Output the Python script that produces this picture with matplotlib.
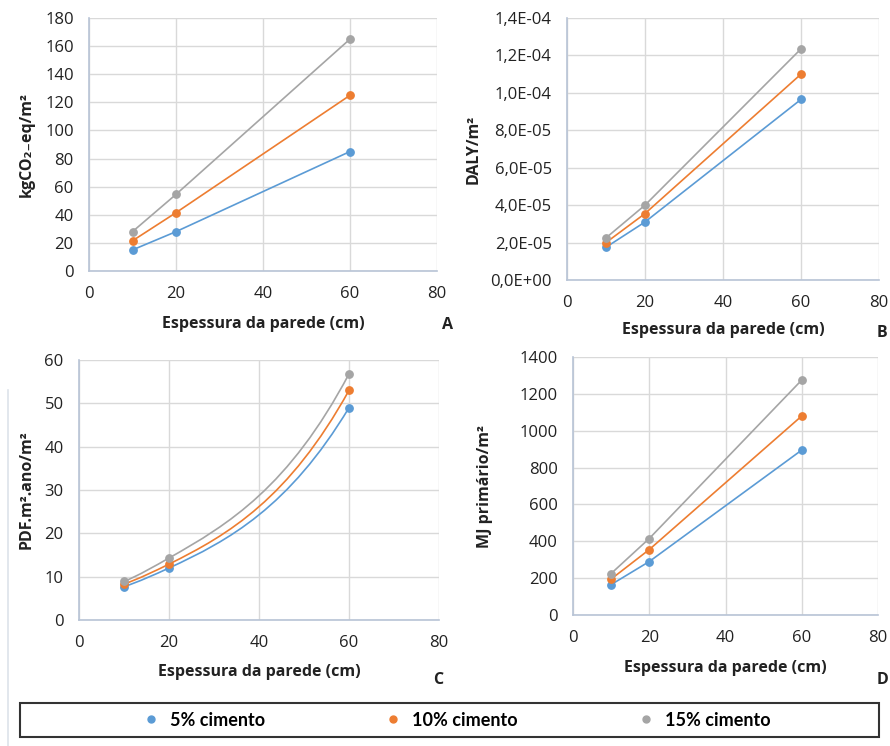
import numpy as np
import matplotlib
matplotlib.use("Agg")
import matplotlib.pyplot as plt
from matplotlib.path import Path
from matplotlib.patches import PathPatch, Rectangle
from matplotlib.lines import Line2D

plt.rcParams['font.family'] = ['Open Sans', 'DejaVu Sans']

# data
espessura = [10, 20, 60]
series_names = ['5% cimento', '10% cimento', '15% cimento']
colors = ['#5b9bd5', '#ed7d31', '#a5a5a5']

co2 = [[15, 28, 85], [21.5, 41.5, 125], [28, 54.5, 165]]
daly = [[1.75e-5, 3.1e-5, 9.65e-5], [2.0e-5, 3.55e-5, 1.10e-4], [2.25e-5, 4.0e-5, 1.235e-4]]
pdf = [[7.7, 12.0, 49.0], [8.3, 12.9, 53.0], [8.9, 14.3, 56.8]]
mj = [[165, 290, 895], [195, 355, 1080], [225, 415, 1275]]

ylabels = ['kgCO₂₋eq/m²', 'DALY/m²', 'PDF.m².ano/m²', 'MJ primário/m²']
xlabel = 'Espessura da parede (cm)'
letters = ['A', 'B', 'C', 'D']

W, H = 890, 746
fig = plt.figure(figsize=(W / 100, H / 100), dpi=100)


def fx(px):
    return px / W


def fy(py):
    return 1 - py / H


def smooth_path(x, y):
    # cubic hermite with slopes from neighbouring log-slopes (like the excel smoothed line)
    x = np.asarray(x, float)
    y = np.asarray(y, float)
    b = np.diff(np.log(y)) / np.diff(x)
    bs = np.concatenate([[b[0]], (b[:-1] + b[1:]) / 2, [b[-1]]])
    m = y * bs
    verts = [(x[0], y[0])]
    codes = [Path.MOVETO]
    for i in range(len(x) - 1):
        h = x[i + 1] - x[i]
        verts += [(x[i] + h / 3, y[i] + m[i] * h / 3),
                  (x[i + 1] - h / 3, y[i + 1] - m[i + 1] * h / 3),
                  (x[i + 1], y[i + 1])]
        codes += [Path.CURVE4] * 3
    return Path(verts, codes)


# axes boxes in pixels: left, top, right, bottom
boxes = [(89, 18, 437, 271), (567, 18, 879, 280), (79, 360, 439, 620), (573, 357, 878, 615)]
datasets = [co2, daly, pdf, mj]
ylims = [(0, 180, 20), (0, 1.4e-4, 2e-5), (0, 60, 10), (0, 1400, 200)]
ylab_x = [27, 474, 27, 485]
xlab_y = [324, 330, 672, 668]
letter_pos = [(448, 325), (882, 333), (438, 680), (882, 680)]

for k in range(4):
    l, t, r, b = boxes[k]
    ax = fig.add_axes([fx(l), fy(b), (r - l) / W, (b - t) / H])
    data = datasets[k]
    for s in range(3):
        if k == 2:
            ax.add_patch(PathPatch(smooth_path(espessura, data[s]), fill=False,
                                   edgecolor=colors[s], lw=1.2, zorder=3))
            ax.plot(espessura, data[s], ls='none', marker='o', ms=5.3,
                    color=colors[s], zorder=4)
        else:
            ax.plot(espessura, data[s], marker='o', ms=5.3, lw=1.2,
                    color=colors[s], zorder=3)
    y0, y1, st = ylims[k]
    ax.set_xlim(0, 80)
    ax.set_ylim(y0, y1)
    ax.set_xticks(np.arange(0, 81, 20))
    ax.set_yticks(np.arange(y0, y1 + st / 2, st))
    if k == 1:
        ax.set_yticklabels([f"{v:.1E}".replace('.', ',') for v in np.arange(y0, y1 + st / 2, st)])
    ax.grid(True, color='#d9d9d9', lw=1.0)
    ax.set_axisbelow(True)
    for sp in ['top', 'right']:
        ax.spines[sp].set_visible(False)
    for sp in ['left', 'bottom']:
        ax.spines[sp].set_color('#b8c4d6')
        ax.spines[sp].set_linewidth(1.2)
    ax.tick_params(length=0, labelsize=12, colors='#222222')
    ax.tick_params(axis='x', pad=11)
    ax.tick_params(axis='y', pad=11)
    fig.text(fx(ylab_x[k]), fy((t + b) / 2), ylabels[k], rotation=90, ha='center',
             va='center', fontsize=11.5, fontweight='bold', color='#222222')
    fig.text(fx((l + r) / 2), fy(xlab_y[k]), xlabel, ha='center', va='center',
             fontsize=11.5, fontweight='bold', color='#222222')
    fig.text(fx(letter_pos[k][0]), fy(letter_pos[k][1]), letters[k], ha='center',
             va='center', fontsize=11.5, fontweight='bold', color='#222222')

# faint left border line
fig.add_artist(Line2D([fx(8), fx(8)], [fy(390), fy(746)], color='#dde3ea', lw=1.2))

# legend box
fig.add_artist(Rectangle((fx(20), fy(737)), (879 - 20) / W, 34 / H, fill=False,
                         edgecolor='#333333', lw=1.5))
handles = [Line2D([], [], ls='none', marker='o', ms=5, color=c) for c in colors]
fig.legend(handles, series_names, loc='center', bbox_to_anchor=(fx(458), fy(720)),
           ncol=3, frameon=False, handlelength=0.6, handletextpad=0.75,
           columnspacing=6.8, borderpad=0,
           prop={'family': ['Lato', 'DejaVu Sans'], 'weight': 'bold', 'size': 13})

fig.savefig('out.png', dpi=100)
